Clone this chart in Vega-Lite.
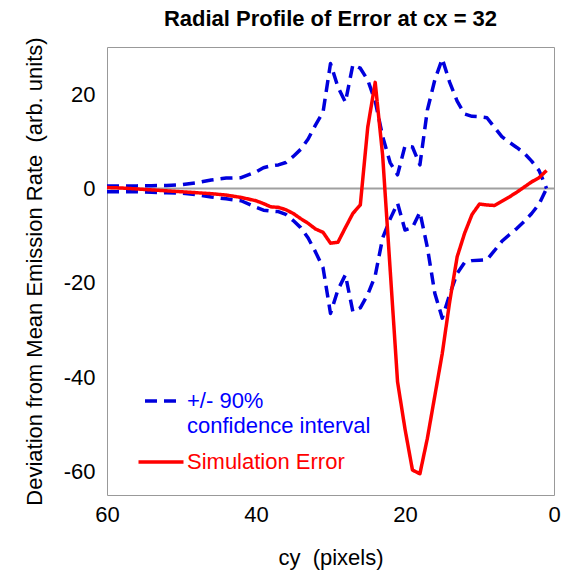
{
  "$schema": "https://vega.github.io/schema/vega-lite/v6.json",
  "autosize": {"type": "none"},
  "padding": {"left": 107, "top": 47, "right": 14, "bottom": 78},
  "width": 447,
  "height": 448,
  "title": {"text": "Radial Profile of Error at cx = 32", "font": "Liberation Sans", "fontSize": 22, "fontWeight": "bold", "color": "#000000", "anchor": "middle", "frame": "group", "offset": 6},
  "config": {
    "view": {"stroke": "#999999", "strokeWidth": 1},
    "axis": {"domain": false, "grid": false, "labelFlush": false, "labelFont": "Liberation Sans", "labelFontSize": 22, "labelColor": "#000000", "titleFont": "Liberation Sans", "titleFontSize": 22, "titleFontWeight": "normal", "titleColor": "#000000", "tickColor": "#888888", "tickSize": 0, "tickWidth": 1}
  },
  "data": {"values": [
    {"cy": 60, "upper": 0.5, "lower": -0.7, "sim": 0.2},
    {"cy": 58, "upper": 0.5, "lower": -0.7, "sim": 0.1},
    {"cy": 56, "upper": 0.55, "lower": -0.7, "sim": -0.1},
    {"cy": 54, "upper": 0.6, "lower": -0.8, "sim": -0.3},
    {"cy": 52, "upper": 0.65, "lower": -0.9, "sim": -0.5},
    {"cy": 50, "upper": 0.8, "lower": -1.0, "sim": -0.7},
    {"cy": 48, "upper": 1.2, "lower": -1.3, "sim": -0.9},
    {"cy": 46, "upper": 1.8, "lower": -1.8, "sim": -1.1},
    {"cy": 44, "upper": 2.2, "lower": -2.2, "sim": -1.4},
    {"cy": 42, "upper": 2.3, "lower": -2.6, "sim": -1.9},
    {"cy": 40, "upper": 3.5, "lower": -4.0, "sim": -2.6},
    {"cy": 39, "upper": 4.4, "lower": -4.6, "sim": -3.2},
    {"cy": 38, "upper": 4.8, "lower": -4.8, "sim": -3.9},
    {"cy": 37, "upper": 5.0, "lower": -4.9, "sim": -4.0},
    {"cy": 36, "upper": 5.5, "lower": -5.5, "sim": -4.5},
    {"cy": 35, "upper": 6.8, "lower": -6.8, "sim": -5.3},
    {"cy": 34, "upper": 8.3, "lower": -8.3, "sim": -6.4},
    {"cy": 33, "upper": 10.5, "lower": -10.5, "sim": -7.4},
    {"cy": 32, "upper": 13.5, "lower": -13.5, "sim": -8.6},
    {"cy": 31, "upper": 16.2, "lower": -16.8, "sim": -9.3},
    {"cy": 30, "upper": 26.5, "lower": -26.5, "sim": -11.6},
    {"cy": 29, "upper": 21.5, "lower": -21.5, "sim": -11.4},
    {"cy": 28, "upper": 18.3, "lower": -18.3, "sim": -8.3},
    {"cy": 27, "upper": 26.2, "lower": -26.1, "sim": -5.3},
    {"cy": 26, "upper": 25.5, "lower": -25.3, "sim": -3.5},
    {"cy": 25, "upper": 23.0, "lower": -22.5, "sim": 13.0},
    {"cy": 24, "upper": 18.5, "lower": -18.5, "sim": 22.5},
    {"cy": 23, "upper": 11.0, "lower": -10.5, "sim": 7.0},
    {"cy": 22, "upper": 5.5, "lower": -6.5, "sim": -17.0},
    {"cy": 21, "upper": 2.9, "lower": -3.1, "sim": -41.0},
    {"cy": 20, "upper": 9.0, "lower": -8.8, "sim": -51.0},
    {"cy": 19, "upper": 8.8, "lower": -8.3, "sim": -59.7},
    {"cy": 18, "upper": 5.0, "lower": -5.0, "sim": -60.5},
    {"cy": 17, "upper": 16.6, "lower": -12.5, "sim": -53.0},
    {"cy": 16, "upper": 23.0, "lower": -22.2, "sim": -44.0},
    {"cy": 15, "upper": 27.5, "lower": -27.5, "sim": -35.0},
    {"cy": 14, "upper": 22.5, "lower": -22.5, "sim": -24.0},
    {"cy": 13, "upper": 18.5, "lower": -18.0, "sim": -14.5},
    {"cy": 12, "upper": 15.8, "lower": -15.7, "sim": -9.5},
    {"cy": 11, "upper": 15.3, "lower": -15.3, "sim": -5.5},
    {"cy": 10, "upper": 15.2, "lower": -15.2, "sim": -3.3},
    {"cy": 9, "upper": 15.0, "lower": -15.1, "sim": -3.5},
    {"cy": 8, "upper": 13.0, "lower": -13.2, "sim": -3.6},
    {"cy": 7, "upper": 11.0, "lower": -11.2, "sim": -2.7},
    {"cy": 6, "upper": 9.8, "lower": -9.8, "sim": -1.8},
    {"cy": 5, "upper": 8.7, "lower": -8.5, "sim": -0.8},
    {"cy": 4, "upper": 7.5, "lower": -7.0, "sim": 0.3},
    {"cy": 3, "upper": 5.8, "lower": -5.3, "sim": 1.4},
    {"cy": 2, "upper": 3.8, "lower": -3.3, "sim": 2.3},
    {"cy": 1, "upper": 0.0, "lower": 0.0, "sim": 3.8}
  ]},
  "transform": [{"fold": ["upper", "lower", "sim"], "as": ["series", "value"]}],
  "resolve": {"axis": {"x": "independent", "y": "independent"}},
  "layer": [
    {
      "data": {"values": [{}]},
      "mark": {"type": "rule", "color": "#a0a0a0", "strokeWidth": 2},
      "encoding": {"y": {"datum": 0, "type": "quantitative", "axis": null}}
    },
    {
      "mark": {"type": "line", "opacity": 0},
      "encoding": {
        "x": {"field": "cy", "type": "quantitative", "scale": {"domain": [0, 60], "reverse": true, "nice": false, "zero": false},
              "axis": {"orient": "top", "labels": false, "title": null, "values": [0, 10, 20, 30, 40, 50, 60],
                       "encode": {"ticks": {"update": {"y2": {"signal": "datum.value % 20 === 0 ? 8 : 4"}}}}}},
        "y": {"field": "value", "type": "quantitative", "scale": {"domain": [-65, 30], "nice": false, "zero": false},
              "axis": {"orient": "right", "labels": false, "title": null, "values": [-60, -50, -40, -30, -20, -10, 0, 10, 20],
                       "encode": {"ticks": {"update": {"x2": {"signal": "datum.value % 20 === 0 ? -8 : -4"}}}}}},
        "detail": {"field": "series"}
      }
    },
    {
      "mark": {"type": "line", "strokeWidth": 3.5, "strokeCap": "butt", "strokeJoin": "round"},
      "encoding": {
        "x": {"field": "cy", "type": "quantitative",
              "axis": {"orient": "bottom", "title": "cy\u00a0\u00a0(pixels)", "values": [0, 10, 20, 30, 40, 50, 60], "labelPadding": 9, "titlePadding": 22,
                       "labelExpr": "datum.value % 20 === 0 ? '' + datum.value : ''",
                       "encode": {"ticks": {"update": {"y2": {"signal": "datum.value % 20 === 0 ? -8 : -4"}}}}}},
        "y": {"field": "value", "type": "quantitative",
              "axis": {"orient": "left", "title": "Deviation from Mean Emission Rate\u00a0\u00a0(arb. units)", "values": [-60, -50, -40, -30, -20, -10, 0, 10, 20], "labelPadding": 12, "titlePadding": 17,
                       "labelExpr": "datum.value % 20 === 0 ? '' + datum.value : ''",
                       "encode": {"ticks": {"update": {"x2": {"signal": "datum.value % 20 === 0 ? 8 : 4"}}}}}},
        "detail": {"field": "series"},
        "color": {"field": "series", "type": "nominal",
                  "scale": {"domain": ["upper", "lower", "sim"], "range": ["#0000dd", "#0000dd", "#ff0000"]},
                  "legend": {"orient": "none", "legendX": 36, "legendY": 336, "title": null, "values": ["upper", "sim"],
                             "symbolType": "stroke", "symbolStrokeWidth": 3.5, "symbolSize": 2025, "labelOffset": 8,
                             "labelFont": "Liberation Sans", "labelFontSize": 22, "labelLimit": 0, "rowPadding": 7, "padding": 0,
                             "labelExpr": "datum.value === 'sim' ? 'Simulation Error' : ['+/- 90%', 'confidence interval']",
                             "encode": {
                               "symbols": {"update": {"size": {"signal": "datum.value === 'sim' ? 2025 : 1024"}}},
                               "labels": {"update": {"fill": {"signal": "datum.value === 'sim' ? '#ff0000' : '#0000ff'"}, "lineHeight": {"value": 25}}}}}},
        "strokeDash": {"field": "series", "type": "nominal",
                       "scale": {"domain": ["upper", "lower", "sim"], "range": [[12, 7], [12, 7], [1, 0]]}}
      }
    }
  ]
}
